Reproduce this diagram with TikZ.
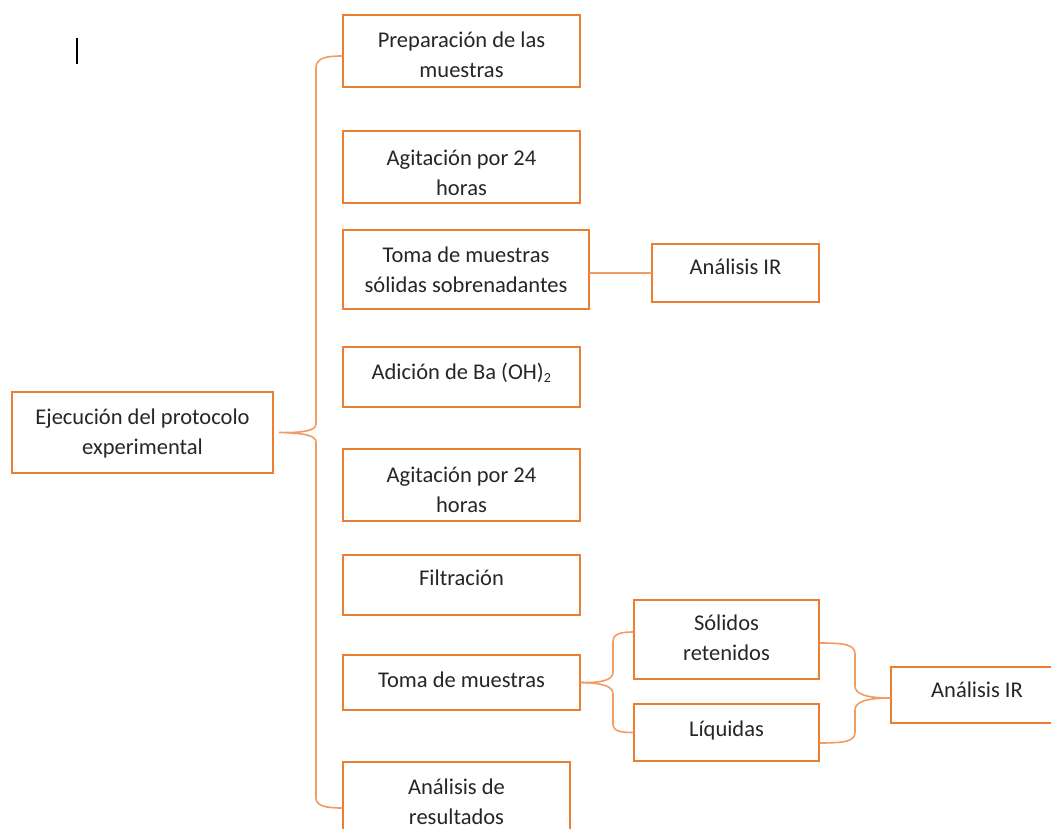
\documentclass[tikz,border=0pt]{standalone}
\usepackage{fontspec}
\setmainfont{Carlito}
\definecolor{boxor}{HTML}{ED7D31}
\definecolor{braceor}{HTML}{F29B63}
\definecolor{txt}{HTML}{262626}
\begin{document}
\begin{tikzpicture}[x=1pt,y=-1pt,
  box/.style={draw=boxor, line width=1.6pt, fill=white, inner sep=0pt},
  lt/.style={anchor=base, yshift=-33.5pt, inner sep=0pt, align=center,
    text=txt, font=\fontsize{22.5}{30}\selectfont},
  ltt/.style={lt, yshift=-30pt},
  brace/.style={draw=braceor, line width=1.6pt, line cap=round}]
\useasboundingbox (0,0) rectangle (1051,829);
% cursor
\draw[black, line width=1.5pt] (77,38) -- (77,64);
% boxes
\node[box, minimum width=237pt, minimum height=72pt, label={[ltt]north:{Preparación de las\\muestras}}] (b1) at (461.5,51) {};
\node[box, minimum width=237pt, minimum height=72pt, label={[ltt,yshift=-2pt]north:{Agitación por 24\\horas}}] (b2) at (461.5,167) {};
\node[box, minimum width=246pt, minimum height=79pt, label={[ltt]north:{Toma de muestras\\sólidas sobrenadantes}}] (b3) at (466,269.5) {};
\node[box, minimum width=167pt, minimum height=58pt, label={[lt,yshift=2pt]north:{Análisis IR}}] (ir1) at (735.5,273) {};
\node[box, minimum width=237pt, minimum height=60pt, label={[lt]north:{Adición de Ba (OH)\textsubscript{\fontsize{14}{14}\selectfont 2}}}] (b4) at (461.5,377) {};
\node[box, minimum width=261pt, minimum height=81pt, label={[ltt]north:{Ejecución del protocolo\\experimental}}] (ej) at (142.5,432.5) {};
\node[box, minimum width=237pt, minimum height=72pt, label={[ltt,yshift=-1pt]north:{Agitación por 24\\horas}}] (b5) at (461.5,485) {};
\node[box, minimum width=237pt, minimum height=60pt, label={[lt,yshift=2pt]north:{Filtración}}] (b6) at (461.5,585) {};
\node[box, minimum width=237pt, minimum height=55pt, label={[lt]north:{Toma de muestras}}] (b7) at (461.5,682.5) {};
\node[box, minimum width=185pt, minimum height=79pt, label={[ltt,yshift=2pt]north:{Sólidos\\retenidos}}] (sol) at (726.5,639.5) {};
\node[box, minimum width=185pt, minimum height=57pt, label={[lt]north:{Líquidas}}] (liq) at (726.5,732.5) {};
\node[box, minimum width=172pt, minimum height=56pt, label={[lt,yshift=2pt]north:{Análisis IR}}] (ir2) at (977,695) {};
\node[box, minimum width=227pt, minimum height=72pt, label={[ltt]north:{Análisis de\\resultados}}] (b8) at (456.5,798) {};
% connector
\draw[brace] (ir1.west -| b3.east) -- (ir1.west);
% main brace
\coordinate (m1) at ([yshift=-5pt]b1.west);
\coordinate (m2) at ([yshift=-10pt]b8.west);
\coordinate (mt) at ([xshift=5pt]ej.east);
\draw[brace] (m1) .. controls (326,56) and (316,58) .. (316,68) -- (316,424)
  .. controls (316,430) and (306,433) .. (mt)
  .. controls (306,433) and (316,436) .. (316,442) -- (316,798)
  .. controls (316,806) and (326,808) .. (m2);
% small brace
\coordinate (s1) at ([yshift=7.5pt]sol.west);
\draw[brace] (b7.east) .. controls (602,683) and (613,680) .. (613,672) -- (613,642)
  .. controls (613,634) and (620,632) .. (s1);
\draw[brace] (b7.east) .. controls (602,683) and (613,686) .. (613,694) -- (613,724)
  .. controls (613,731) and (620,732.5) .. (liq.west);
% right brace
\coordinate (r1) at ([yshift=-3.5pt]sol.east);
\coordinate (r2) at ([yshift=-10.5pt]liq.east);
\coordinate (rt) at ([yshift=-3pt]ir2.west);
\draw[brace] (r1) .. controls (846,643) and (855,645) .. (855,654) -- (855,686)
  .. controls (855,694) and (866,698) .. (rt);
\draw[brace] (r2) .. controls (846,743) and (855,741) .. (855,732) -- (855,710)
  .. controls (855,702) and (866,698) .. (rt);
\end{tikzpicture}
\end{document}
